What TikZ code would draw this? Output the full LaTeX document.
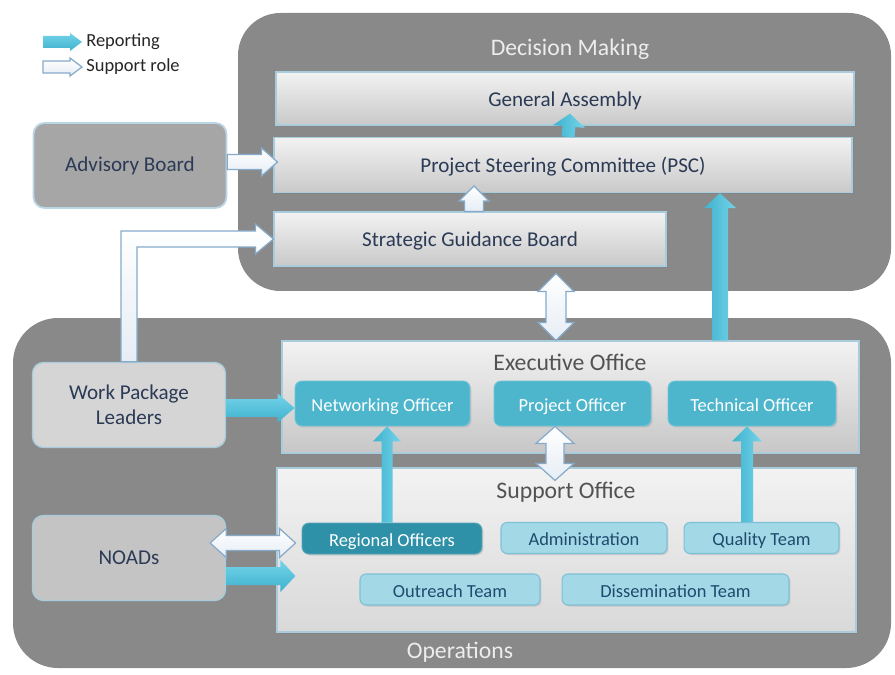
\documentclass[tikz,border=0pt]{standalone}
\usepackage{fontspec}
\setmainfont{Carlito}
\usetikzlibrary{calc,shadows}
\definecolor{panelgray}{HTML}{898989}
\definecolor{boxedge}{HTML}{A9CCDD}
\definecolor{boxbot}{HTML}{C9C9C9}
\definecolor{navy}{HTML}{2B3A55}
\definecolor{tealA}{HTML}{4DB6CD}
\definecolor{tealB}{HTML}{2E91A8}
\definecolor{tealC}{HTML}{A3D9E7}
\definecolor{tealCedge}{HTML}{7EC0D5}
\definecolor{tealtext}{HTML}{1F4A6E}
\definecolor{cyanL}{HTML}{74D3E9}
\definecolor{cyanD}{HTML}{3FB2CE}
\definecolor{wfill}{HTML}{E6EDF5}
\definecolor{wedge}{HTML}{86AACA}
\definecolor{sidegray}{HTML}{D5D5D5}
\definecolor{advgray}{HTML}{A6A6A6}
\newcommand\blockarrow[6]{%
  \coordinate (bah) at ($(#3)!#6!(#2)$);
  \draw[#1] ($(#2)!#4!90:(#3)$) -- ($(bah)!#4!90:(#3)$) -- ($(bah)!#5!90:(#3)$) -- (#3)
    -- ($(bah)!#5!-90:(#3)$) -- ($(bah)!#4!-90:(#3)$) -- ($(#2)!#4!-90:(#3)$) -- cycle;}
\newcommand\dblarrow[6]{%
  \coordinate (dahA) at ($(#2)!#6!(#3)$);
  \coordinate (dahB) at ($(#3)!#6!(#2)$);
  \draw[#1] (#2) -- ($(dahA)!#5!90:(#3)$) -- ($(dahA)!#4!90:(#3)$) -- ($(dahB)!#4!-90:(#2)$)
    -- ($(dahB)!#5!-90:(#2)$) -- (#3) -- ($(dahB)!#5!90:(#2)$) -- ($(dahB)!#4!90:(#2)$)
    -- ($(dahA)!#4!-90:(#3)$) -- ($(dahA)!#5!-90:(#3)$) -- cycle;}
\tikzset{
  panel/.style={fill=panelgray, rounded corners=0.85cm},
  paneltitle/.style={text=white!93!black, font=\fontsize{13.5}{16}\selectfont, inner sep=0pt},
  lbox/.style={draw=boxedge, line width=0.7pt, top color=white!95!black, bottom color=boxbot,
    text=navy, font=\fontsize{12}{14}\selectfont, inner sep=0pt, text height=0.88em, text depth=0pt,
    drop shadow={opacity=0.3, shadow xshift=0.04cm, shadow yshift=-0.04cm}},
  officebox/.style={draw=boxedge, line width=0.7pt, top color=white!95!black, bottom color=#1,
    inner sep=0pt, drop shadow={opacity=0.3, shadow xshift=0.04cm, shadow yshift=-0.04cm}},
  officetitle/.style={text=black!68, font=\fontsize{13.5}{16}\selectfont, inner sep=0pt},
  sidebox/.style={draw=boxedge, line width=0.8pt, fill=#1, rounded corners=0.22cm,
    text=navy, font=\fontsize{12}{14}\selectfont, align=center, inner sep=0pt,
    minimum width=3.86cm, minimum height=1.7cm},
  tealbox/.style={fill=#1, draw=#1!80!white, line width=0.5pt, rounded corners=0.14cm, text=white,
    font=\fontsize{10.5}{12}\selectfont, inner sep=0pt, text height=0.88em, text depth=0pt,
    drop shadow={opacity=0.25, shadow xshift=0.03cm, shadow yshift=-0.03cm}},
  ltealbox/.style={fill=tealC, draw=tealCedge, line width=0.6pt, rounded corners=0.12cm, text=tealtext,
    font=\fontsize{10.5}{12}\selectfont, inner sep=0pt, minimum height=0.62cm,
    text height=0.88em, text depth=0pt,
    drop shadow={opacity=0.25, shadow xshift=0.03cm, shadow yshift=-0.03cm}},
  bluearrH/.style={top color=cyanL, bottom color=cyanD, draw=none},
  bluearrV/.style={left color=cyanD, right color=cyanL, draw=none},
  whitearr/.style={top color=white, bottom color=wfill, draw=wedge, line width=0.7pt, line join=miter},
  legendtext/.style={anchor=west, text=black!85, font=\fontsize{10.5}{12}\selectfont, inner sep=0pt}
}
\begin{document}
\begin{tikzpicture}[x=0.02cm,y=-0.02cm]
\useasboundingbox (0,0) rectangle (895,675);
\fill[white] (0,0) rectangle (895,675);
% panels
\fill[panel] (238,13) rectangle (891,291);
\fill[panel, rounded corners=0.9cm] (13,318) rectangle (891,668);
\node[paneltitle] (dmt) at (570,49) {Decision Making};
\node[paneltitle] (opt) at (460,652) {Operations};
% decision making boxes
\node[lbox, minimum width=11.56cm, minimum height=1.06cm] (ga) at (565,98.5) {General Assembly};
\node[lbox, minimum width=11.56cm, minimum height=1.1cm] (psc) at (563,165) {Project Steering Committee (PSC)};
\node[lbox, minimum width=7.84cm, minimum height=1.08cm] (sgb) at (470,239) {Strategic Guidance Board};
% side boxes
\node[sidebox=advgray, draw=boxedge!80!white, line width=1pt] (adv) at (130,165.5) {Advisory Board};
\node[sidebox=sidegray] (wpl) at (129,405) {Work Package\\Leaders};
\node[sidebox=sidegray!92!black] (noads) at (129,558) {NOADs};
% offices
\node[officebox=black!22, minimum width=11.54cm, minimum height=2.24cm] (eo) at (570.5,397) {};
\node[officetitle] (eot) at (570,362) {Executive Office};
\node[officebox=black!15, minimum width=11.58cm, minimum height=3.28cm] (so) at (566.5,550) {};
\node[officetitle] (sot) at (566,492) {Support Office};
\node[tealbox=tealA, minimum width=3.5cm, minimum height=0.9cm] (net) at (382.5,403.5) {Networking Officer};
\node[tealbox=tealA, minimum width=3.14cm, minimum height=0.9cm] (po) at (572.5,403.5) {Project Officer};
\node[tealbox=tealA, minimum width=3.36cm, minimum height=0.9cm] (to) at (752,403.5) {Technical Officer};
\node[tealbox=tealB, minimum width=3.6cm, minimum height=0.62cm] (reg) at (392,538.5) {Regional Officers};
\node[ltealbox, minimum width=3.32cm] (adm) at (584,538) {Administration};
\node[ltealbox, minimum width=3.1cm] (qt) at (761.5,538) {Quality Team};
\node[ltealbox, minimum width=3.6cm] (ot) at (450,589.5) {Outreach Team};
\node[ltealbox, minimum width=4.54cm] (dt) at (675.5,589.5) {Dissemination Team};
% legend
\coordinate (lg1s) at (43,42); \coordinate (lg1e) at (82,42);
\coordinate (lg2s) at (43,67); \coordinate (lg2e) at (82,67);
\blockarrow{bluearrH}{lg1s}{lg1e}{0.12cm}{0.18cm}{0.24cm}
\blockarrow{whitearr}{lg2s}{lg2e}{0.12cm}{0.18cm}{0.24cm}
\node[legendtext] (lgt1) at (86,42) {Reporting};
\node[legendtext] (lgt2) at (86,67) {Support role};
% arrows in decision making
\coordinate (a1s) at ([xshift=0.1cm]psc.north);
\coordinate (a1e) at ([xshift=0.1cm,yshift=0.24cm]ga.south);
\blockarrow{bluearrV}{a1s}{a1e}{0.13cm}{0.32cm}{0.26cm}
\coordinate (a2s) at ([xshift=0.08cm]sgb.north);
\coordinate (a2e) at ($(a2s |- psc.south)+(0,-7)$);
\blockarrow{whitearr}{a2s}{a2e}{0.19cm}{0.3cm}{0.3cm}
\coordinate (a3s) at ($(adv.east)+(0,-3.5)$);
\coordinate (a3e) at ($(a3s -| psc.west)+(4,0)$);
\blockarrow{whitearr}{a3s}{a3e}{0.15cm}{0.28cm}{0.32cm}
% bent arrow WPL -> SGB
\coordinate (bc) at (wpl.north |- sgb.west);
\coordinate (bh) at ($(sgb.west)+(-18,0)$);
\draw[whitearr] ($(wpl.north)+(-8,0)$) -- ($(bc)+(-8,-8)$) -- ($(bh)+(0,-8)$) -- ($(bh)+(0,-15)$)
  -- (sgb.west) -- ($(bh)+(0,15)$) -- ($(bh)+(0,8)$) -- ($(bc)+(8,8)$) -- ($(wpl.north)+(8,0)$) -- cycle;
% SGB <-> Executive office
\coordinate (a5s) at ($(sgb.south)+(86,7)$);
\coordinate (a5e) at (a5s |- eo.north);
\dblarrow{whitearr}{a5s}{a5e}{0.2cm}{0.36cm}{0.36cm}
% EO -> PSC
\coordinate (a6s) at ($(eo.north)+(149.5,0)$);
\coordinate (a6e) at (a6s |- psc.south);
\blockarrow{bluearrV}{a6s}{a6e}{0.16cm}{0.32cm}{0.3cm}
% WPL -> Networking
\coordinate (a7s) at ($(wpl.east)+(0,3)$);
\coordinate (a7e) at (a7s -| net.west);
\blockarrow{bluearrH}{a7s}{a7e}{0.18cm}{0.29cm}{0.34cm}
% NOADs <-> Regional
\coordinate (a8s) at ($(noads.east)+(-16,-15)$);
\coordinate (a8e) at ($(a8s -| reg.west)+(-6,0)$);
\dblarrow{whitearr}{a8s}{a8e}{0.15cm}{0.29cm}{0.32cm}
% NOADs -> Support office
\coordinate (a9s) at ($(noads.east)+(0,18)$);
\coordinate (a9e) at ($(a9s -| so.west)+(19,0)$);
\blockarrow{bluearrH}{a9s}{a9e}{0.18cm}{0.32cm}{0.3cm}
% Regional -> Networking
\coordinate (a10s) at ([xshift=-0.1cm]reg.north);
\coordinate (a10e) at (a10s |- net.south);
\blockarrow{bluearrV}{a10s}{a10e}{0.11cm}{0.28cm}{0.3cm}
% Project <-> Support
\coordinate (a11s) at ($(po.south)+(-17.5,0)$);
\coordinate (a11e) at ($(a11s)+(0,54)$);
\dblarrow{whitearr}{a11s}{a11e}{0.18cm}{0.38cm}{0.34cm}
% Quality -> Technical
\coordinate (a12s) at ([xshift=-0.29cm]qt.north);
\coordinate (a12e) at (a12s |- to.south);
\blockarrow{bluearrV}{a12s}{a12e}{0.12cm}{0.3cm}{0.3cm}
\end{tikzpicture}
\end{document}
